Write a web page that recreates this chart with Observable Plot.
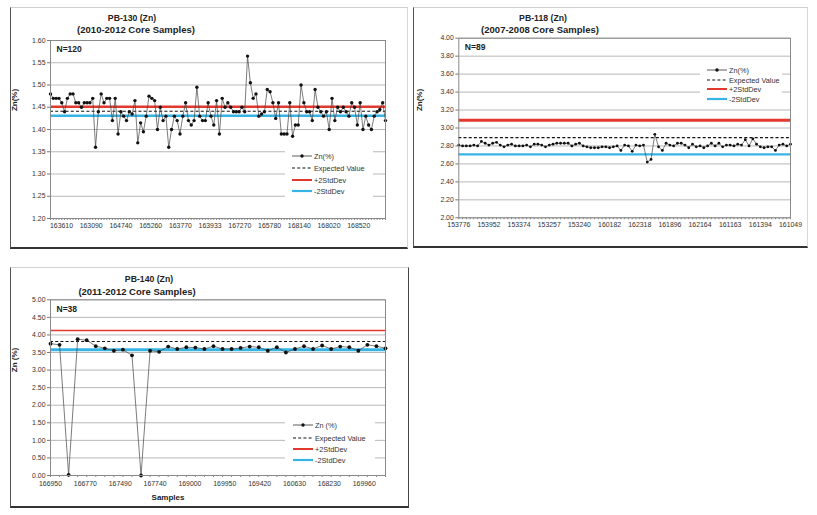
<!DOCTYPE html>
<html><head><meta charset="utf-8">
<script src="https://cdn.jsdelivr.net/npm/d3@7"></script>
<script src="https://cdn.jsdelivr.net/npm/@observablehq/plot@0.6"></script>
<style>
body{margin:0;background:#fff;font-family:"Liberation Sans",Arial,sans-serif;}
#page{position:relative;width:817px;height:515px;overflow:hidden;background:#fff}
.frame{position:absolute;box-sizing:border-box;border-left:1.5px solid #555;border-bottom:2px solid #333;border-top:1px solid #d0d0d0;border-right:1px solid #d8d8d8}
.txt{position:absolute;white-space:nowrap;line-height:1;color:#222}
.title{font-weight:bold;font-size:9px;transform:translate(-50%,-50%)}
.ylab{font-weight:bold;font-size:8px;transform:translate(-50%,-50%) rotate(-90deg)}
.legend{position:absolute;background:#fff}
.lrow{position:absolute;left:0;height:8px;display:flex;align-items:center;font-size:7.3px;color:#333;white-space:nowrap}
.plotbox{position:absolute}
</style></head>
<body><div id="page"></div>
<script>
// ---------- data ----------
const zn130 = [1.48,1.47,1.47,1.47,1.46,1.44,1.47,1.48,1.48,1.46,1.46,1.45,1.46,1.46,1.46,1.47,1.36,
  1.44,1.48,1.46,1.47,1.47,1.42,1.47,1.39,1.44,1.43,1.42,1.44,1.435,1.465,
  1.37,
  1.415,1.395,1.43,1.475,1.47,1.465,1.40,1.45,1.42,1.43,
  1.36,
  1.40,1.43,1.42,1.39,1.43,1.46,1.42,1.41,1.42,
  1.495,
  1.43,1.42,1.42,1.46,1.43,1.41,1.465,1.39,1.47,1.45,1.46,1.45,1.44,1.44,1.44,1.45,1.44,
  1.565,
  1.505,1.47,1.48,1.43,1.435,1.44,1.49,1.485,1.46,1.425,1.46,1.39,1.39,1.39,1.46,1.385,1.41,1.41,1.50,1.46,
  1.44,1.44,1.42,1.49,1.45,1.44,1.43,1.44,1.40,1.47,1.42,1.45,1.44,1.45,1.44,1.43,1.46,1.45,1.41,1.46,
  1.40,1.43,1.41,1.40,1.43,1.44,1.445,1.46,1.42];
const labels130 = ["163610","163090","164740","165260","163770","163933","167270","165780","168140","168020","168520"];
const stats130 = {ev:1.441, hi:1.451, lo:1.431};

const zn118 = [2.81,2.80,2.80,2.80,2.81,2.80,2.85,2.83,2.81,2.83,
  2.84,2.81,2.79,2.81,2.82,2.80,2.80,2.80,2.81,2.79,
  2.82,2.82,2.81,2.79,2.81,2.82,2.83,2.83,2.83,2.83,
  2.80,2.82,2.83,2.80,2.79,2.78,2.78,2.78,2.79,2.79,
  2.78,2.79,2.80,2.75,2.81,2.80,2.74,
  2.81,2.80,2.81,
  2.62,2.65,2.93,2.79,2.75,
  2.83,2.81,2.80,2.83,2.83,2.81,2.78,2.82,2.79,2.80,
  2.78,2.80,2.83,2.80,2.83,2.79,2.81,2.81,2.80,2.82,
  2.81,2.87,2.80,2.88,2.82,2.79,2.78,2.79,2.79,2.75,
  2.81,2.82,2.80,2.82];
const labels118 = ["153776","153952","153374","153257","153240","160182","162318","161896","162164","161163","161394","161049"];
const stats118 = {ev:2.893, hi:3.085, lo:2.707};

const zn140 = [3.75,3.72,0.02,3.88,3.85,3.68,3.62,3.55,3.58,3.42,
  0.00,3.55,3.52,3.67,3.60,3.65,3.64,3.60,3.68,3.60,
  3.60,3.63,3.67,3.65,3.55,3.65,3.50,3.60,3.68,3.60,
  3.70,3.60,3.67,3.65,3.55,3.72,3.68,3.62];
const labels140 = ["166950","166770","167490","167740","169000","169950","169420","160630","168230","169960"];
const stats140 = {ev:3.814, hi:4.127, lo:3.577};

const RED = "#e2392e", BLUE = "#37b4e4";
const FONT = '"Liberation Sans", Arial, sans-serif';
const page = document.getElementById("page");

function addDiv(cls, css, html) {
  const d = document.createElement("div");
  d.className = cls;
  Object.assign(d.style, css);
  if (html != null) d.innerHTML = html;
  page.appendChild(d);
  return d;
}

function panel(o) {
  const data = o.values.map((v, i) => ({i, v}));
  const n = o.values.length;
  const tickPos = o.labels.map((_, k) => o.tickOffset + k * o.tickStep);
  const lab = new Map(tickPos.map((p, k) => [p, o.labels[k]]));
  const chart = Plot.plot({
    width: o.width, height: o.height,
    marginLeft: o.mL, marginRight: o.mR, marginTop: o.mT, marginBottom: o.mB,
    x: {type: "linear", domain: [0, n - 1]},
    y: {domain: o.yDomain},
    style: {fontFamily: FONT, fontSize: "6.9px", color: "#333", background: "transparent", overflow: "visible"},
    marks: [
      Plot.ruleY(o.yTicks, {stroke: "#a6a6a6", strokeWidth: 0.8}),
      Plot.axisY({ticks: o.yTicks, tickFormat: d3.format(".2f"), tickSize: 3, tickPadding: 2, label: null, stroke: "#777", fill: "#333"}),
      Plot.axisX({ticks: d3.range(n), tickFormat: () => "", tickSize: 2, label: null, stroke: "#888"}),
      Plot.axisX({ticks: tickPos, tickFormat: d => lab.get(d), tickSize: 0, tickPadding: o.tickPad, label: null, fill: "#333"}),
      Plot.ruleY([o.stats.hi], {stroke: RED, strokeWidth: o.hiW}),
      Plot.ruleY([o.stats.lo], {stroke: BLUE, strokeWidth: o.loW}),
      Plot.ruleY([o.stats.ev], {stroke: "#111", strokeWidth: 1.1, strokeDasharray: "3,2.2"}),
      Plot.line(data, {x: "i", y: "v", stroke: "#444", strokeWidth: 0.7}),
      Plot.dot(data, {x: "i", y: "v", r: o.r, fill: "#111", stroke: "none"}),
      Plot.frame({stroke: "#8a8a8a", strokeWidth: 1}),
      Plot.text([o.nText], {frameAnchor: "top-left", dx: o.nDx, dy: o.nDy, fontWeight: "bold", fontSize: 8.5, fill: "#222"})
    ]
  });
  const box = addDiv("plotbox", {left: o.left + "px", top: o.top + "px"});
  box.appendChild(chart);
}

function legend(o) {
  const lg = addDiv("legend", {left: o.left + "px", top: o.top + "px", width: o.w + "px", height: o.h + "px"});
  const items = [
    {t: o.znLabel, sw: `<line x1="0" y1="3" x2="20" y2="3" stroke="#333" stroke-width="0.8"/><circle cx="10" cy="3" r="1.7" fill="#111"/>`},
    {t: "Expected Value", sw: `<line x1="0" y1="3" x2="20" y2="3" stroke="#111" stroke-width="1.1" stroke-dasharray="3,2.2"/>`},
    {t: "+2StdDev", sw: `<line x1="0" y1="3" x2="20" y2="3" stroke="${RED}" stroke-width="2"/>`},
    {t: "-2StdDev", sw: `<line x1="0" y1="3" x2="20" y2="3" stroke="${BLUE}" stroke-width="2.2"/>`}
  ];
  items.forEach((it, k) => {
    const r = document.createElement("div");
    r.className = "lrow";
    r.style.top = (o.rows[k] - o.top - 4) + "px";
    r.style.left = (o.swX - o.left) + "px";
    r.innerHTML = `<svg width="20" height="6" style="margin-right:2px">${it.sw}</svg><span>${it.t}</span>`;
    lg.appendChild(r);
  });
}

// ---------- frames ----------
addDiv("frame", {left: "10px", top: "7px", width: "398px", height: "242px"});
addDiv("frame", {left: "413px", top: "7px", width: "395px", height: "241px"});
addDiv("frame", {left: "10px", top: "267px", width: "399px", height: "241px", borderRight: "1.5px solid #444"});

// ---------- panel 1 ----------
panel({left: 10, top: 30, width: 400, height: 205, mL: 40, mR: 25, mT: 10, mB: 17,
  values: zn130, yDomain: [1.20, 1.60], yTicks: d3.range(0, 9).map(k => +(1.20 + k * 0.05).toFixed(2)),
  labels: labels130, tickOffset: 3.9, tickStep: 10.56, tickPad: 5,
  stats: stats130, hiW: 2.4, loW: 2.4, r: 1.7, nText: "N=120", nDx: 6, nDy: 5});
addDiv("txt title", {left: "132px", top: "18px", fontSize: "8.7px"}, "PB-130 (Zn)");
addDiv("txt title", {left: "136px", top: "30px", fontSize: "9.5px"}, "(2010-2012 Core Samples)");
addDiv("txt ylab", {left: "15px", top: "100px"}, "Zn(%)");
legend({left: 285, top: 147, w: 88, h: 53, swX: 292, rows: [156, 168, 180, 191], znLabel: "Zn(%)"});

// ---------- panel 2 ----------
panel({left: 413, top: 30, width: 395, height: 205, mL: 45.3, mR: 18, mT: 7.7, mB: 17.7,
  values: zn118, yDomain: [2.00, 4.00], yTicks: d3.range(0, 11).map(k => +(2.00 + k * 0.2).toFixed(2)),
  labels: labels118, tickOffset: 0, tickStep: 8, tickPad: 4,
  stats: stats118, hiW: 3, loW: 2.2, r: 1.4, nText: "N=89", nDx: 6, nDy: 6});
addDiv("txt title", {left: "543px", top: "18px", fontSize: "8.7px"}, "PB-118 (Zn)");
addDiv("txt title", {left: "540px", top: "30px", fontSize: "9.5px"}, "(2007-2008 Core Samples)");
addDiv("txt ylab", {left: "420px", top: "100px"}, "Zn(%)");
legend({left: 700, top: 64, w: 82, h: 40, swX: 707, rows: [70, 80, 89, 99], znLabel: "Zn(%)"});

// ---------- panel 3 ----------
panel({left: 10, top: 290, width: 400, height: 200, mL: 40, mR: 25, mT: 9.3, mB: 15,
  values: zn140, yDomain: [0, 5], yTicks: d3.range(0, 11).map(k => +(k * 0.5).toFixed(2)),
  labels: labels140, tickOffset: 0, tickStep: 3.85, tickPad: 6,
  stats: stats140, hiW: 1.6, loW: 3, r: 1.9, nText: "N=38", nDx: 6, nDy: 6});
addDiv("txt title", {left: "149px", top: "279px", fontSize: "8.7px"}, "PB-140 (Zn)");
addDiv("txt title", {left: "137px", top: "292px", fontSize: "9.5px"}, "(2011-2012 Core Samples)");
addDiv("txt ylab", {left: "15px", top: "360px"}, "Zn (%)");
addDiv("txt title", {left: "168px", top: "498px", fontSize: "8px"}, "Samples");
legend({left: 285, top: 418, w: 90, h: 48, swX: 293, rows: [425, 438, 449, 460], znLabel: "Zn (%)"});
</script>
</body></html>
